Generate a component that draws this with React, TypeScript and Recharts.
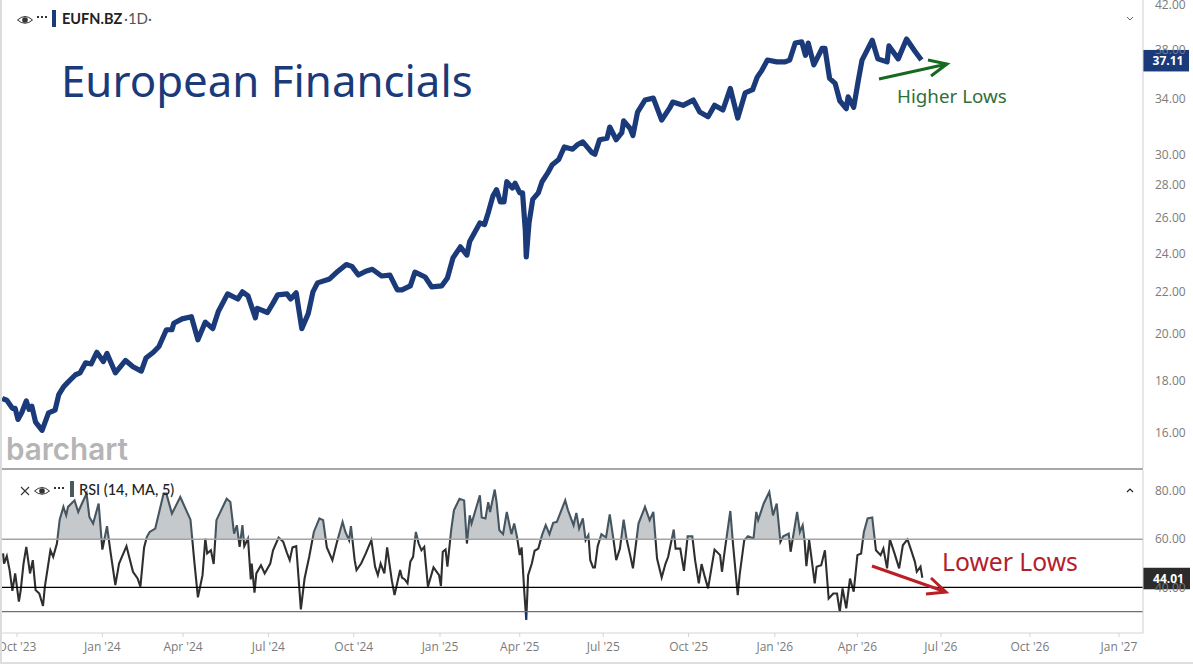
import React from 'react';
import {
  ComposedChart,
  Line,
  Area,
  XAxis,
  YAxis,
  ReferenceLine
} from 'recharts';

// x positions are days from the Oct '23 tick
const priceDays = [
  -16, -14, -11, -5, -2, 1, 5, 10, 13, 16, 20, 27, 34, 41, 45, 50, 55, 63, 68, 74, 80, 86, 93, 97, 106, 117, 125, 134,
  139, 147, 153, 161, 167, 169, 178, 188, 195, 203, 211, 217, 227, 238, 243, 249, 257, 259, 270, 276, 281, 291, 295,
  301, 307, 314, 319, 324, 337, 346, 355, 361, 368, 376, 383, 393, 402, 410, 415, 424, 429, 440, 447, 458, 464, 470,
  478, 485, 488, 499, 504, 508, 513, 517, 521, 525, 528, 534, 537, 542, 545, 548, 549, 552, 556, 562, 566, 572, 577,
  584, 590, 599, 604, 610, 620, 623, 628, 636, 639, 646, 652, 654, 661, 664, 669, 677, 686, 695, 704, 707, 718, 729,
  736, 745, 752, 761, 769, 777, 785, 793, 798, 803, 809, 819, 828, 833, 839, 846, 850, 853, 859, 868, 871, 876, 882,
  887, 894, 896, 902, 907, 911, 922, 928, 938, 940, 950, 959, 968, 975
];
const priceValues = [
  17.31, 17.27, 17.23, 16.92, 16.92, 16.5, 16.75, 17.2, 16.88, 17.0, 16.4, 16.1, 16.75, 16.85, 17.45, 17.75, 17.95,
  18.25, 18.33, 18.75, 18.7, 19.2, 18.8, 19.15, 18.33, 18.85, 18.58, 18.4, 18.95, 19.2, 19.45, 20.2, 20.2, 20.5, 20.7,
  20.8, 19.75, 20.55, 20.25, 21.05, 21.9, 21.65, 22.0, 21.8, 20.75, 21.2, 21.0, 21.45, 21.85, 21.9, 21.65, 21.95,
  20.25, 20.95, 22.0, 22.45, 22.65, 23.05, 23.4, 23.3, 22.85, 23.05, 23.15, 22.8, 22.85, 22.1, 22.1, 22.3, 23.0,
  22.75, 22.25, 22.3, 22.7, 23.75, 24.35, 23.9, 24.65, 25.7, 25.6, 26.3, 27.3, 27.7, 26.95, 26.95, 28.2, 27.8, 28.1,
  27.5, 27.5, 25.25, 23.8, 25.7, 27.1, 27.5, 28.2, 28.75, 29.3, 29.65, 30.5, 30.35, 30.65, 30.85, 30.1, 30.0, 31.0,
  31.1, 31.9, 31.0, 31.5, 32.35, 31.8, 31.3, 33.0, 33.9, 34.05, 32.4, 33.35, 33.75, 33.5, 33.9, 33.0, 32.65, 33.5,
  33.15, 34.8, 32.55, 34.45, 34.7, 35.7, 36.25, 37.1, 36.95, 36.95, 37.1, 38.55, 38.65, 37.5, 38.55, 36.7, 38.1, 38.1,
  35.6, 35.2, 33.85, 33.25, 34.15, 33.35, 35.45, 37.1, 38.8, 37.2, 36.95, 38.3, 37.2, 38.9, 37.85, 37.11
];

const rsiDays = [
  -15, -14, -11, -8, -5, -2, 2, 4, 7, 10, 14, 17, 20, 24, 28, 30, 36, 39, 43, 46, 50, 53, 55, 62, 66, 70, 75, 78, 82,
  88, 92, 97, 101, 106, 110, 118, 125, 130, 133, 137, 140, 143, 149, 158, 161, 167, 176, 187, 191, 195, 200, 203, 205,
  209, 212, 215, 226, 230, 234, 237, 240, 243, 245, 249, 252, 253, 256, 258, 263, 267, 273, 276, 282, 287, 291, 294,
  297, 301, 306, 310, 315, 320, 326, 330, 334, 340, 345, 351, 354, 358, 360, 364, 366, 371, 376, 382, 386, 389, 392,
  396, 399, 404, 407, 413, 415, 418, 421, 424, 427, 430, 433, 436, 439, 441, 443, 449, 455, 457, 459, 462, 464, 468,
  471, 477, 482, 485, 488, 490, 499, 501, 505, 508, 510, 515, 517, 520, 524, 528, 533, 536, 539, 542, 544, 547, 549,
  551, 555, 558, 562, 566, 570, 574, 578, 582, 591, 594, 600, 603, 606, 610, 613, 616, 618, 621, 623, 626, 630, 635,
  639, 643, 646, 650, 654, 657, 661, 664, 670, 677, 682, 686, 690, 695, 699, 702, 708, 710, 715, 719, 723, 728, 731,
  735, 738, 741, 745, 752, 758, 760, 763, 769, 772, 777, 779, 784, 788, 794, 797, 799, 805, 811, 815, 819, 823, 826,
  832, 834, 841, 844, 847, 849, 851, 854, 860, 862, 867, 871, 875, 880, 884, 887, 890, 894, 898, 902, 906, 910, 913,
  917, 922, 926, 931, 934, 938, 941, 946, 951, 955, 960, 964, 968, 970, 974, 976
];
const rsiValues = [
  54.1, 49.9, 53, 47.2, 38.6, 45.8, 34.1, 38.9, 49.9, 56.8, 45.8, 51.3, 38.9, 37.5, 32.3, 40.3, 55.4, 52.7, 58.2, 68.1,
  73.4, 69.9, 73.4, 76.1, 71.3, 74.8, 78.9, 69.2, 66.5, 74.8, 55.7, 65.4, 54.1, 41, 49.9, 57.1, 46.5, 43.7, 40.3, 56.6,
  61, 63, 64.4, 78.9, 78.9, 70.6, 77.5, 68.1, 51.3, 35.9, 45.1, 60.3, 54.1, 55.4, 49.7, 67.9, 76.8, 75.4, 62.3, 65.8,
  56.8, 65.8, 57.1, 60.3, 43.3, 49.9, 37.8, 45.8, 49.2, 45.8, 49.9, 55.4, 60.7, 58.9, 54.3, 51.3, 56.6, 57.1, 30.9,
  43.7, 52.7, 63, 68.6, 67.9, 56.6, 51.3, 58.9, 67.2, 63, 59.6, 65.4, 51.3, 47.2, 49.9, 54.1, 59.6, 48.6, 45.1, 49.9,
  45.8, 56.6, 43, 36.8, 47.2, 44.1, 43.3, 41.7, 50.6, 52.7, 63, 58.2, 55.4, 56.8, 48.6, 40.3, 48.3, 45.1, 40.6, 54.8,
  55.7, 48.6, 63.7, 72, 76.8, 76.1, 58.2, 69.9, 66.5, 78.2, 69, 68.6, 75.4, 71.3, 80.6, 75.4, 63.7, 62.1, 71.3, 62.1,
  66.5, 61, 53.4, 56.6, 37.5, 26.5, 45.1, 49.9, 55.2, 56.1, 61.7, 65.8, 62.1, 66.8, 67.2, 76.1, 72, 65.8, 70.9, 64.4,
  68.6, 59.6, 61.7, 51.3, 48.3, 48.3, 57.1, 62.1, 60.7, 70.3, 59.9, 51.3, 56.1, 68.1, 60.3, 53.4, 47.9, 66.5, 73.4,
  67.9, 71.3, 52, 44.1, 49.7, 52.7, 64, 56.1, 56.1, 46.9, 61.2, 61.2, 51.3, 41.7, 49.7, 45.1, 39.6, 55.7, 53.4, 46.5,
  55.4, 71.7, 57.5, 36.8, 45.1, 59.6, 61.2, 60.3, 71.3, 67.9, 74.8, 79.6, 69.9, 74.8, 58.9, 61.2, 62.3, 54.8, 71.3, 63,
  65.8, 59.6, 48.8, 59.6, 41.7, 48.6, 49.2, 55.4, 35.4, 37.5, 37.5, 29.9, 39.6, 31.3, 43.7, 38.2, 53.4, 54.1, 63, 68.6,
  69, 55.4, 53.4, 56.1, 47.9, 59.9, 54.1, 47.9, 57.5, 59.9, 55.4, 50.6, 46.5, 48.6, 44.01
];

const timeTicks = [0, 92, 179, 271, 363, 456, 542, 632, 724, 817, 906, 996, 1092, 1188];
const timeLabels = [
  "Oct '23", "Jan '24", "Apr '24", "Jul '24", "Oct '24", "Jan '25", "Apr '25",
  "Jul '25", "Oct '25", "Jan '26", "Apr '26", "Jul '26", "Oct '26", "Jan '27"
];
const priceTicks = [16, 18, 20, 22, 24, 26, 28, 30, 34, 38, 42];
const rsiTicks = [40, 60, 80];
const lastPrice = 37.11;
const lastRsi = 44.01;

const priceData = priceDays.map((day, i) => ({ day, price: priceValues[i] }));
const rsiData = rsiDays.map((day, i) => ({ day, rsi: rsiValues[i] }));

const xDomain: [number, number] = [-16.2, 1213.9];
const rsiDomain: [number, number] = [21.1, 88.7];
const rsiPaneHeight = 163;
const NAVY = '#1a3a7a';
const AXIS_GREY = '#cfcfcf';
const TICK_GREY = '#7b7b7b';
const SANS = '"Open Sans", sans-serif';

const rsiOffset = (v: number) => (rsiDomain[1] - v) / (rsiDomain[1] - rsiDomain[0]);

const valueTag = (text: string, fill: string, width: number) => (props: any) => {
  const { x, y, width: w } = props.viewBox;
  return (
    <g>
      <rect x={x + w} y={y - 10} width={width} height={21.5} fill={fill} />
      <text
        x={x + w + width / 2 + 2}
        y={y + 5}
        textAnchor="middle"
        fontFamily={SANS}
        fontSize={12}
        fontWeight={700}
        fill="#fff"
      >
        {text}
      </text>
    </g>
  );
};

const Eye = ({ x, y }: { x: number; y: number }) => (
  <g transform={`translate(${x},${y})`} fill="none" stroke="#333">
    <path d="M-7.5 0 Q0 -7 7.5 0 Q0 6.5 -7.5 0 Z" strokeWidth={1} />
    <circle r={2.8} fill="#333" stroke="none" />
  </g>
);

const Dots = ({ x, y }: { x: number; y: number }) => (
  <g fill="#333">
    <rect x={x} y={y} width={2} height={2} />
    <rect x={x + 4} y={y} width={2} height={2} />
    <rect x={x + 8} y={y} width={2} height={2} />
  </g>
);

export default function App() {
  return (
    <div style={{ position: 'absolute', left: 0, top: 0, width: 1193, height: 664, background: '#fff', overflow: 'hidden' }}>
      <div style={{ position: 'absolute', left: 0, top: 0, width: 2, height: 664, background: '#dcdcdc' }} />
      <div style={{ position: 'absolute', left: 0, top: 662, width: 1193, height: 1.5, background: '#dedede' }} />
      <div style={{ position: 'absolute', left: 2, top: 0 }}>
        <ComposedChart width={1191} height={468} data={priceData} margin={{ top: 0, right: 0, bottom: 0, left: 0 }}>
          <XAxis dataKey="day" type="number" domain={xDomain} allowDataOverflow hide />
          <YAxis
            orientation="right"
            width={50}
            scale="log"
            domain={[14.79, 42.48]}
            allowDataOverflow
            ticks={priceTicks}
            interval={0}
            tickFormatter={(v: number) => v.toFixed(2)}
            tick={{ fill: TICK_GREY, fontSize: 12, fontFamily: SANS }}
            tickLine={false}
            tickMargin={6}
            stroke={AXIS_GREY}
          />
          <Line
            dataKey="price"
            stroke={NAVY}
            strokeWidth={5.2}
            dot={false}
            strokeLinejoin="round"
            isAnimationActive={false}
          />
          <ReferenceLine y={lastPrice} stroke="none" label={valueTag('37.11', NAVY, 46)} />
        </ComposedChart>
      </div>
      <div style={{ position: 'absolute', left: 2, top: 468, width: 1141, height: 2, background: '#a8a8a8' }} />
      <div style={{ position: 'absolute', left: 2, top: 470 }}>
        <ComposedChart width={1191} height={193} data={rsiData} margin={{ top: 0, right: 0, bottom: 0, left: 0 }}>
          <defs>
            <linearGradient id="rsiFill" gradientUnits="userSpaceOnUse" x1={0} y1={0} x2={0} y2={rsiPaneHeight}>
              <stop offset={rsiOffset(60)} stopColor="#c5c9cc" />
              <stop offset={rsiOffset(60)} stopColor="#c5c9cc" stopOpacity={0} />
            </linearGradient>
            <linearGradient id="rsiStroke" gradientUnits="userSpaceOnUse" x1={0} y1={0} x2={0} y2={rsiPaneHeight}>
              <stop offset={rsiOffset(60)} stopColor="#465661" />
              <stop offset={rsiOffset(60)} stopColor="#2f2f2f" />
              <stop offset={rsiOffset(30)} stopColor="#2f2f2f" />
              <stop offset={rsiOffset(30)} stopColor="#14326b" />
            </linearGradient>
          </defs>
          <XAxis
            dataKey="day"
            type="number"
            domain={xDomain}
            allowDataOverflow
            ticks={timeTicks}
            interval={0}
            height={30}
            tickFormatter={(v: number) => timeLabels[timeTicks.indexOf(v)]}
            tick={{ fill: TICK_GREY, fontSize: 12, fontFamily: SANS }}
            tickSize={4}
            tickMargin={5}
            stroke="#d4d4d4"
          />
          <YAxis
            orientation="right"
            width={50}
            domain={rsiDomain}
            allowDataOverflow
            ticks={rsiTicks}
            interval={0}
            tickFormatter={(v: number) => v.toFixed(2)}
            tick={{ fill: TICK_GREY, fontSize: 12, fontFamily: SANS }}
            tickLine={false}
            tickMargin={6}
            stroke={AXIS_GREY}
          />
          <Area
            dataKey="rsi"
            baseValue={60}
            fill="url(#rsiFill)"
            fillOpacity={1}
            stroke="url(#rsiStroke)"
            strokeWidth={2.1}
            dot={false}
            isAnimationActive={false}
          />
          <ReferenceLine y={60} stroke="#a3a3a3" strokeWidth={1.5} />
          <ReferenceLine y={40} stroke="#000" strokeWidth={1.3} />
          <ReferenceLine y={30} stroke="#707070" strokeWidth={1.3} />
          <ReferenceLine y={lastRsi} stroke="none" label={valueTag('44.01', '#2b2b2b', 47)} />
        </ComposedChart>
      </div>
      <svg width={1193} height={664} style={{ position: 'absolute', left: 0, top: 0, pointerEvents: 'none' }}>
        <Eye x={25} y={20} />
        <Dots x={37} y={16} />
        <rect x={52} y={10} width={4} height={17} fill={NAVY} />
        <text x={62} y={24} fontFamily="Lato, sans-serif" fontSize={14.5} fontWeight={700} fill="#222">EUFN.BZ</text>
        <text x={124} y={24} fontFamily="Lato, sans-serif" fontSize={15} fill="#555">·1D·</text>
        <path d="M1127 17 L1130 20 L1133 17" fill="none" stroke="#666" strokeWidth={1} />
        <text x={61} y={97} fontFamily='"Noto Sans", sans-serif' fontSize={43.8} fill={NAVY}>European Financials</text>
        <text x={6} y={460} fontFamily="Inter, sans-serif" fontSize={31} fontWeight={600} fill="#b5b5b5" textLength={122} lengthAdjust="spacingAndGlyphs">barchart</text>

        <path d="M879 79 L947 64 M928 60 L947 64 L931 76" fill="none" stroke="#17691f" strokeWidth={3} />
        <text x={897} y={103} fontFamily='"Noto Sans", sans-serif' fontSize={18.8} fill="#2f6f38">Higher Lows</text>

        <path d="M21 487 L29 495 M29 487 L21 495" stroke="#333" strokeWidth={1.1} />
        <Eye x={42} y={491} />
        <Dots x={54} y={487} />
        <rect x={70} y={481} width={4} height={16} fill="#465a60" />
        <text x={79} y={495} fontFamily="Lato, sans-serif" fontSize={14.5} fontWeight={500} fill="#222">RSI (14, MA, 5)</text>
        <path d="M1127 492 L1130 489 L1133 492" fill="none" stroke="#222" strokeWidth={1.2} />

        <path d="M872 566 L946 592 M931 578 L946 592 L926 594" fill="none" stroke="#bb1f26" strokeWidth={3} />
        <text x={942} y={571} fontFamily='"Noto Sans", sans-serif' fontSize={24.7} fill="#b3202c">Lower Lows</text>
      </svg>
    </div>
  );
}
